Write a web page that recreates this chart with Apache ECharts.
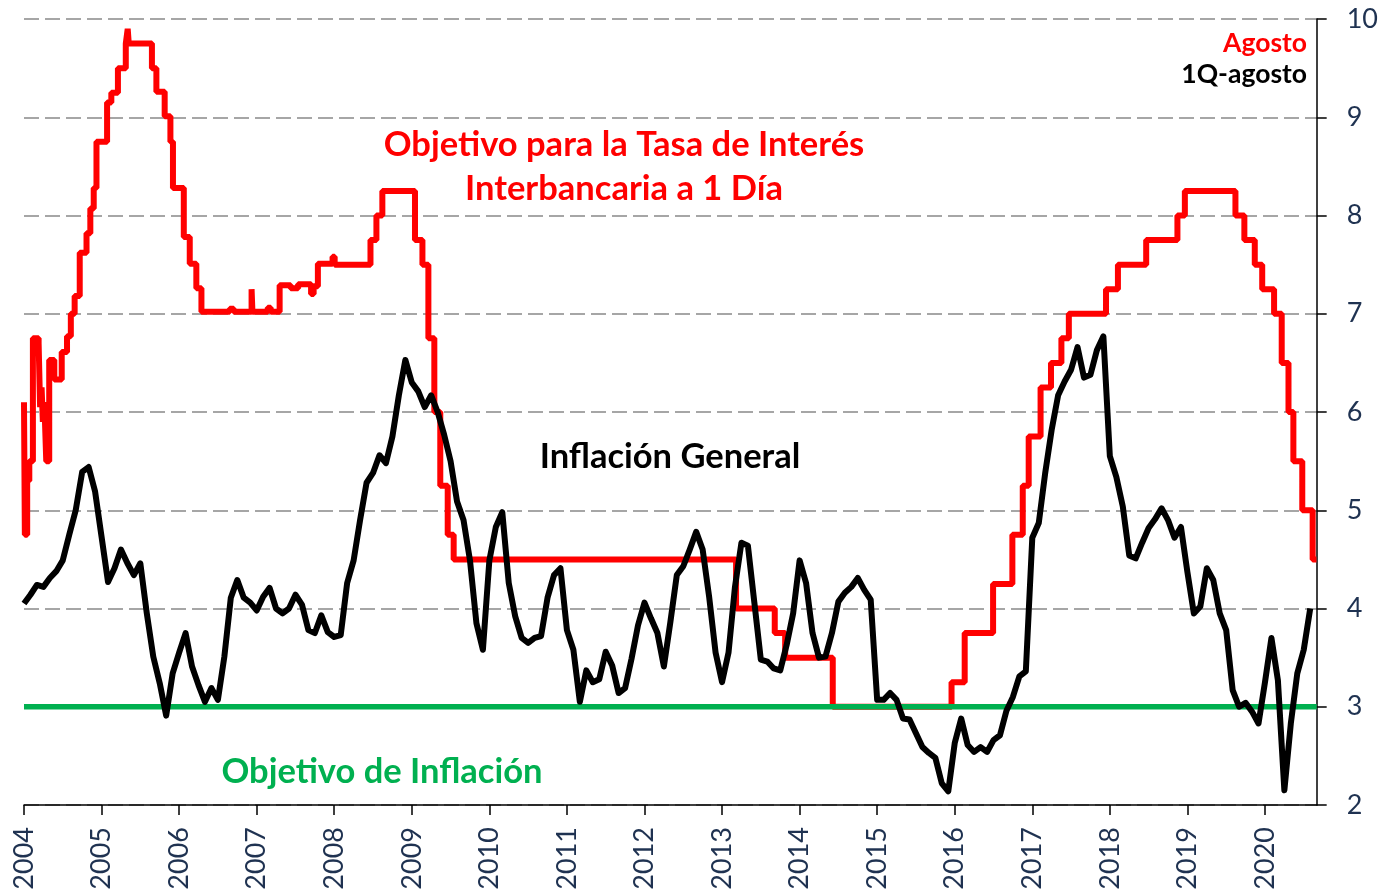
<!DOCTYPE html>
<html>
<head>
<meta charset="utf-8">
<script src="https://cdn.jsdelivr.net/npm/echarts@6/dist/echarts.min.js"></script>
<style>
  html, body { margin: 0; padding: 0; background: #ffffff; }
  #chart { width: 1381px; height: 895px; }
</style>
</head>
<body>
<div id="chart"></div>
<script>
// Inflación general anual (%), datos mensuales desde enero de 2004; el último es 1Q-agosto 2020
const inflationStartYear = 2004;
const inflation = [
  4.05, 4.14, 4.24, 4.22, 4.31, 4.38, 4.49, 4.75, 5.00, 5.39, 5.44, 5.19, // 2004
  4.73, 4.27, 4.41, 4.60, 4.46, 4.34, 4.46, 3.95, 3.51, 3.24, 2.91, 3.34, // 2005
  3.55, 3.75, 3.41, 3.22, 3.05, 3.19, 3.07, 3.51, 4.11, 4.29, 4.11, 4.06, // 2006
  3.98, 4.12, 4.21, 4.00, 3.95, 4.00, 4.14, 4.04, 3.78, 3.75, 3.93, 3.76, // 2007
  3.71, 3.73, 4.26, 4.49, 4.90, 5.28, 5.38, 5.56, 5.48, 5.75, 6.17, 6.53, // 2008
  6.30, 6.21, 6.05, 6.17, 6.00, 5.77, 5.50, 5.09, 4.90, 4.49, 3.85, 3.58, // 2009
  4.49, 4.83, 4.98, 4.26, 3.92, 3.70, 3.65, 3.70, 3.72, 4.11, 4.34, 4.41, // 2010
  3.78, 3.58, 3.05, 3.37, 3.25, 3.28, 3.56, 3.42, 3.14, 3.19, 3.49, 3.83, // 2011
  4.06, 3.90, 3.75, 3.41, 3.86, 4.34, 4.43, 4.60, 4.78, 4.60, 4.12, 3.55, // 2012
  3.25, 3.55, 4.22, 4.67, 4.64, 4.06, 3.48, 3.46, 3.39, 3.37, 3.63, 3.95, // 2013
  4.49, 4.26, 3.75, 3.50, 3.51, 3.75, 4.07, 4.16, 4.22, 4.31, 4.19, 4.09, // 2014
  3.07, 3.07, 3.14, 3.07, 2.88, 2.87, 2.73, 2.59, 2.53, 2.48, 2.22, 2.14, // 2015
  2.63, 2.88, 2.61, 2.54, 2.59, 2.54, 2.66, 2.71, 2.96, 3.10, 3.31, 3.36, // 2016
  4.72, 4.87, 5.38, 5.82, 6.17, 6.31, 6.43, 6.66, 6.35, 6.38, 6.63, 6.77, // 2017
  5.55, 5.34, 5.04, 4.54, 4.51, 4.67, 4.82, 4.91, 5.02, 4.90, 4.72, 4.83, // 2018
  4.37, 3.95, 4.02, 4.41, 4.29, 3.95, 3.78, 3.17, 3.00, 3.04, 2.95, 2.83, // 2019
  3.25, 3.70, 3.27, 2.15, 2.83, 3.34, 3.58, 4.00                          // 2020
];

// Tasa de interés interbancaria a 1 día (%): fecha de cada cambio y nivel vigente desde entonces
const policyRate = [
  ['2004-01-01', 6.10], ['2004-01-05', 4.75], ['2004-01-16', 5.30], ['2004-01-26', 5.50],
  ['2004-02-12', 6.75], ['2004-03-10', 6.70], ['2004-03-17', 6.05], ['2004-03-24', 6.25],
  ['2004-03-30', 5.90], ['2004-04-06', 6.10], ['2004-04-15', 5.50], ['2004-04-29', 6.53],
  ['2004-05-23', 6.33], ['2004-06-27', 6.61], ['2004-07-22', 6.77], ['2004-08-09', 7.00],
  ['2004-08-27', 7.18], ['2004-09-20', 7.62], ['2004-10-22', 7.82], ['2004-11-09', 8.07],
  ['2004-11-25', 8.28], ['2004-12-08', 8.75], ['2005-01-27', 9.15], ['2005-02-16', 9.25],
  ['2005-03-19', 9.50], ['2005-04-25', 9.75], ['2005-05-04', 9.90], ['2005-05-09', 9.75],
  ['2005-08-26', 9.50], ['2005-09-16', 9.26], ['2005-10-25', 9.01], ['2005-11-21', 8.75],
  ['2005-12-03', 8.28], ['2006-01-23', 7.78], ['2006-02-20', 7.51], ['2006-03-23', 7.26],
  ['2006-04-16', 7.02], ['2006-08-27', 7.05], ['2006-09-15', 7.02], ['2006-12-08', 7.25],
  ['2006-12-12', 7.02], ['2007-02-22', 7.06], ['2007-03-08', 7.02], ['2007-04-19', 7.29],
  ['2007-06-10', 7.26], ['2007-07-15', 7.30], ['2007-09-14', 7.20], ['2007-09-26', 7.28],
  ['2007-10-16', 7.51], ['2007-12-24', 7.58], ['2008-01-03', 7.50], ['2008-06-20', 7.75],
  ['2008-07-18', 8.00], ['2008-08-15', 8.25], ['2009-01-16', 7.75], ['2009-02-20', 7.50],
  ['2009-03-20', 6.75], ['2009-04-17', 6.00], ['2009-05-15', 5.25], ['2009-06-19', 4.75],
  ['2009-07-17', 4.50], ['2013-03-08', 4.00], ['2013-09-06', 3.75], ['2013-10-25', 3.50],
  ['2014-06-06', 3.00], ['2015-12-17', 3.25], ['2016-02-17', 3.75], ['2016-06-30', 4.25],
  ['2016-09-29', 4.75], ['2016-11-17', 5.25], ['2016-12-15', 5.75], ['2017-02-09', 6.25],
  ['2017-03-30', 6.50], ['2017-05-18', 6.75], ['2017-06-22', 7.00], ['2017-12-14', 7.25],
  ['2018-02-08', 7.50], ['2018-06-21', 7.75], ['2018-11-15', 8.00], ['2018-12-20', 8.25],
  ['2019-08-15', 8.00], ['2019-09-26', 7.75], ['2019-11-14', 7.50], ['2019-12-19', 7.25],
  ['2020-02-13', 7.00], ['2020-03-20', 6.50], ['2020-04-21', 6.00], ['2020-05-14', 5.50],
  ['2020-06-25', 5.00], ['2020-08-13', 4.50], ['2020-08-31', 4.50]
];

// Objetivo de inflación (%)
const inflationTarget = 3;

// Años marcados en el eje horizontal
const yearTicks = [2004, 2005, 2006, 2007, 2008, 2009, 2010, 2011, 2012,
                   2013, 2014, 2015, 2016, 2017, 2018, 2019, 2020];

const xMin = 2004;
const xMax = 2020 + 8 / 12;

function dateToYear(s) {
  const [y, m, d] = s.split('-').map(Number);
  const start = Date.UTC(y, 0, 1);
  const end = Date.UTC(y + 1, 0, 1);
  return y + (Date.UTC(y, m - 1, d) - start) / (end - start);
}

const inflationData = inflation.map((v, i) => [inflationStartYear + i / 12, v]);
const rateData = policyRate.map(([d, v]) => [dateToYear(d), v]);
const targetData = [[xMin, inflationTarget], [xMax, inflationTarget]];

const FONT = 'Lato, "Open Sans", sans-serif';
const AXIS_TEXT = '#1F3251';

const chart = echarts.init(document.getElementById('chart'), null, { renderer: 'canvas' });

chart.setOption({
  animation: false,
  backgroundColor: '#ffffff',
  grid: { left: 24, right: 63, top: 19, bottom: 90, containLabel: false },
  xAxis: {
    type: 'value',
    min: xMin,
    max: xMax,
    interval: 1,
    axisLine: { show: true, onZero: false, lineStyle: { color: '#000000', width: 1.5 } },
    axisTick: { show: true, length: 10, lineStyle: { color: '#000000', width: 1.5 }, customValues: yearTicks },
    axisLabel: {
      rotate: 90,
      margin: 22,
      fontSize: 27,
      fontFamily: FONT,
      color: AXIS_TEXT,
      customValues: yearTicks,
      formatter: v => String(Math.round(v))
    },
    splitLine: { show: false }
  },
  yAxis: {
    type: 'value',
    position: 'right',
    min: 2,
    max: 10,
    interval: 1,
    axisLine: { show: true, onZero: false, lineStyle: { color: '#000000', width: 1.5 } },
    axisTick: { show: true, length: 10, lineStyle: { color: '#000000', width: 1.5 } },
    axisLabel: { margin: 30, fontSize: 27, fontFamily: FONT, color: AXIS_TEXT },
    splitLine: { show: true, lineStyle: { color: '#A6A6A6', width: 2, type: [15, 6] } }
  },
  series: [
    {
      name: 'Objetivo para la Tasa de Interés Interbancaria a 1 Día',
      type: 'line',
      step: 'end',
      data: rateData,
      showSymbol: false,
      symbol: 'none',
      lineStyle: { color: '#FF0000', width: 6 },
      z: 2
    },
    {
      name: 'Objetivo de Inflación',
      type: 'line',
      data: targetData,
      showSymbol: false,
      symbol: 'none',
      lineStyle: { color: '#00B050', width: 5.5 },
      z: 3
    },
    {
      name: 'Inflación General',
      type: 'line',
      data: inflationData,
      showSymbol: false,
      symbol: 'none',
      lineStyle: { color: '#000000', width: 6, join: 'round' },
      z: 4
    }
  ],
  graphic: [
    { type: 'text', z: 10, style: { text: 'Objetivo para la Tasa de Interés', x: 624, y: 145, align: 'center', verticalAlign: 'middle', font: 'bold 34.5px ' + FONT, fill: '#FF0000' } },
    { type: 'text', z: 10, style: { text: 'Interbancaria a 1 Día', x: 624, y: 189, align: 'center', verticalAlign: 'middle', font: 'bold 34.5px ' + FONT, fill: '#FF0000' } },
    { type: 'text', z: 10, style: { text: 'Inflación General', x: 670, y: 457, align: 'center', verticalAlign: 'middle', font: 'bold 34.5px ' + FONT, fill: '#000000' } },
    { type: 'text', z: 10, style: { text: 'Objetivo de Inflación', x: 382, y: 772, align: 'center', verticalAlign: 'middle', font: 'bold 34.5px ' + FONT, fill: '#00B050' } },
    { type: 'text', z: 10, style: { text: 'Agosto', x: 1307, y: 43, align: 'right', verticalAlign: 'middle', font: 'bold 26.5px ' + FONT, fill: '#FF0000' } },
    { type: 'text', z: 10, style: { text: '1Q-agosto', x: 1307, y: 74, align: 'right', verticalAlign: 'middle', font: 'bold 26.5px ' + FONT, fill: '#000000' } }
  ]
});
</script>
</body>
</html>
